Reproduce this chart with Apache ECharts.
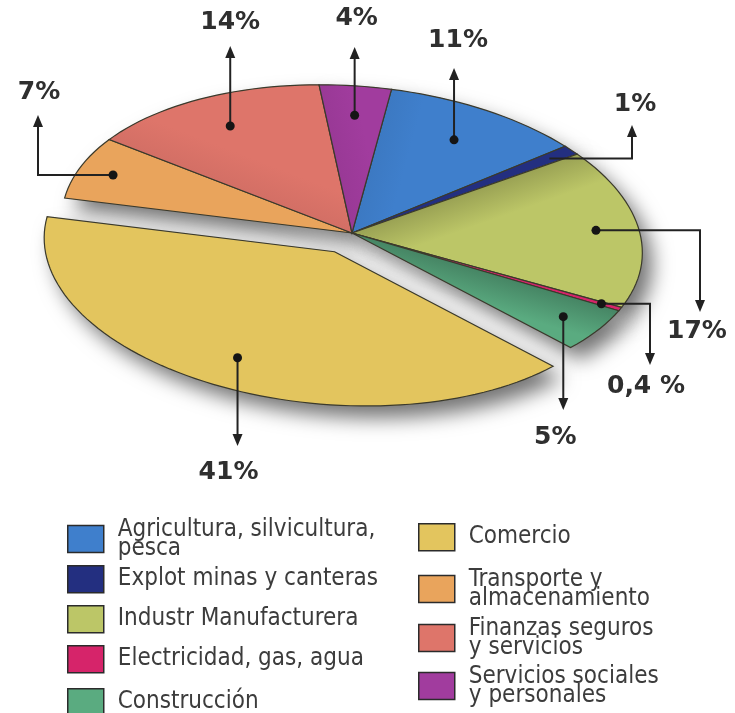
<!doctype html>
<html lang="es">
<head>
<meta charset="utf-8">
<title>Estructura por sector</title>
<script src="https://cdn.jsdelivr.net/npm/echarts@6/dist/echarts.min.js"></script>
<style>
  html, body { margin: 0; padding: 0; background: #fff; }
  #chart { width: 735px; height: 713px; }
</style>
</head>
<body>
<div id="chart"></div>
<script>
// slices in drawing order, clockwise from the top of the pie
const sectors = ['Agricultura, silvicultura, pesca', 'Explot minas y canteras', 'Industr Manufacturera',
  'Electricidad, gas, agua', 'Construcción', 'Comercio', 'Transporte y almacenamiento',
  'Finanzas seguros y servicios', 'Servicios sociales y personales'];
const shares = [11, 1, 17, 0.4, 5, 41, 7, 14, 4];
const shareLabels = ['11%', '1%', '17%', '0,4 %', '5%', '41%', '7%', '14%', '4%'];
const legendLabels = ['Agricultura, silvicultura,\npesca', 'Explot minas y canteras', 'Industr Manufacturera',
  'Electricidad, gas, agua', 'Construcción', 'Comercio', 'Transporte y\nalmacenamiento',
  'Finanzas seguros\ny servicios', 'Servicios sociales\ny personales'];
const colors = ['#3f7fcc', '#232f80', '#bcc667', '#d6246a', '#5aab80', '#e3c55e', '#e9a45c', '#de756a', '#a13c9e'];
// how dark the soft shade along each slice's leading edge is
const edgeShade = [0.05, 0, 0.18, 0, 0.22, 0, 0, 0.05, 0.05];
const exploded = 'Comercio';

// tilted pie: rotated ellipse rim, apex a bit above the ellipse centre (perspective)
const PIE = { cx: 352, cy: 236, apexY: 233, rx: 291, ry: 150, tilt: 4.5, start: 5.5, explode: 42 };

// where each percentage sits: dot at fraction f of the radius, then an arrow to the text
const labelLayout = [
  { f: 0.76, route: 'v', tipY: 68, dx: 4, ty: 40 },
  { f: 0.9, dot: false, route: 'hv', x: 632, tipY: 125, tx: 635, ty: 104 },
  { f: 0.85, route: 'hv', x: 700, tipY: 312, tx: 697, ty: 331 },
  { f: 0.93, route: 'hv', x: 650, tipY: 365, tx: 646, ty: 386 },
  { f: 0.86, route: 'v', tipY: 410, dx: -8, ty: 437 },
  { f: 0.8, route: 'v', tipY: 446, dx: -9, ty: 472 },
  { f: 0.88, route: 'hv', x: 38, tipY: 115, tx: 39, ty: 92 },
  { f: 0.8, route: 'v', tipY: 46, dx: 0, ty: 22 },
  { f: 0.8, route: 'v', tipY: 47, dx: 2, ty: 18 }
];

// legend squares (left, top of the square)
const legendPos = [[67, 523], [67, 565], [67, 605], [67, 645], [67, 688],
  [418, 523], [418, 573], [418, 622], [418, 670]];
const ICON_W = 36, ICON_H = 27, LINE_H = 19;

const total = shares.reduce((a, b) => a + b, 0);
const startAngles = [];
let acc = PIE.start;
shares.forEach(v => { startAngles.push(acc); acc += v / total * 360; });

const tiltSin = Math.sin(PIE.tilt * Math.PI / 180);
const tiltCos = Math.cos(PIE.tilt * Math.PI / 180);

function rotate(lx, ly) {
  return [lx * tiltCos - ly * tiltSin, lx * tiltSin + ly * tiltCos];
}

function rimPoint(deg) {
  const r = deg * Math.PI / 180;
  const p = rotate(PIE.rx * Math.sin(r), -PIE.ry * Math.cos(r));
  return [PIE.cx + p[0], PIE.cy + p[1]];
}

function offsetFor(i, mid) {
  if (sectors[i] !== exploded) return [0, 0];
  const r = mid * Math.PI / 180;
  return rotate(PIE.explode * Math.sin(r), -PIE.explode * Math.cos(r) * PIE.ry / PIE.rx);
}

function sectorPoints(a0, a1, off) {
  const pts = [[PIE.cx + off[0], PIE.apexY + off[1]]];
  const n = Math.max(2, Math.ceil((a1 - a0) / 2));
  for (let k = 0; k <= n; k++) {
    const p = rimPoint(a0 + (a1 - a0) * k / n);
    pts.push([p[0] + off[0], p[1] + off[1]]);
  }
  return pts;
}

function darken(hex, k) {
  const n = parseInt(hex.slice(1), 16);
  const c = [n >> 16, (n >> 8) & 255, n & 255].map(v => Math.round(v * (1 - k)));
  return 'rgb(' + c.join(',') + ')';
}

// fill with a soft darker band along the slice's leading (start) edge
function sliceFill(i, a0, off) {
  if (!edgeShade[i]) return colors[i];
  const ax = PIE.cx + off[0], ay = PIE.apexY + off[1];
  const p = rimPoint(a0);
  let ex = p[0] + off[0] - ax, ey = p[1] + off[1] - ay;
  const len = Math.hypot(ex, ey);
  ex /= len; ey /= len;
  const mx = ax + ex * len * 0.5, my = ay + ey * len * 0.5;
  return {
    type: 'linear', global: true,
    x: mx, y: my, x2: mx - ey * 34, y2: my + ex * 34,
    colorStops: [{ offset: 0, color: darken(colors[i], edgeShade[i]) }, { offset: 1, color: colors[i] }]
  };
}

function arrowHead(x, y, dir) {
  // dir -1 points up, 1 points down
  return { type: 'polygon', z2: 50, shape: { points: [[x, y], [x - 5, y - dir * 12], [x + 5, y - dir * 12]] },
    style: { fill: '#222' } };
}

function renderSlice(i, value) {
  const a0 = startAngles[i];
  const a1 = a0 + value / total * 360;
  const mid = (a0 + a1) / 2;
  const off = offsetFor(i, mid);
  const lay = labelLayout[i];
  const rim = rimPoint(mid);
  const dx = PIE.cx + lay.f * (rim[0] - PIE.cx) + off[0];
  const dy = PIE.apexY + lay.f * (rim[1] - PIE.apexY) + off[1];

  const children = [{
    type: 'polygon', z2: 1,
    shape: { points: sectorPoints(a0, a1, off) },
    style: { fill: sliceFill(i, a0, off), stroke: '#3b3a2c', lineWidth: 1.2 }
  }];

  let line, tip, tx, ty;
  const dir = lay.tipY < dy ? -1 : 1;
  if (lay.route === 'v') {
    line = [[dx, dy], [dx, lay.tipY - dir * 12]];
    tip = arrowHead(dx, lay.tipY, dir);
    tx = dx + lay.dx; ty = lay.ty;
  } else {
    line = [[dx, dy], [lay.x, dy], [lay.x, lay.tipY - dir * 12]];
    tip = arrowHead(lay.x, lay.tipY, dir);
    tx = lay.tx; ty = lay.ty;
  }
  children.push({ type: 'polyline', z2: 50, shape: { points: line }, style: { stroke: '#222', lineWidth: 2, fill: null } });
  children.push(tip);
  if (lay.dot !== false) {
    children.push({ type: 'circle', z2: 51, shape: { cx: dx, cy: dy, r: 4.5 }, style: { fill: '#151515' } });
  }
  children.push({
    type: 'text', z2: 50,
    style: { text: shareLabels[i], x: tx, y: ty, align: 'center', verticalAlign: 'middle',
      font: 'bold 25px "DejaVu Sans", Verdana, sans-serif', fill: '#2f2f2f' }
  });
  return { type: 'group', children };
}

function renderShadow(params, api) {
  const i = params.dataIndex;
  const a0 = startAngles[i];
  const a1 = a0 + api.value(0) / total * 360;
  const off = offsetFor(i, (a0 + a1) / 2);
  return {
    type: 'polygon',
    shape: { points: sectorPoints(a0, a1, off) },
    style: { fill: '#9a9a9a', shadowBlur: 20, shadowColor: 'rgba(0,0,0,0.55)', shadowOffsetX: 10, shadowOffsetY: 12 }
  };
}

const legendFont = "'Liberation Sans Narrow', 'DejaVu Sans Condensed', 'Noto Sans', sans-serif";

const chart = echarts.init(document.getElementById('chart'), null, { renderer: 'canvas' });
chart.setOption({
  backgroundColor: '#fff',
  animation: false,
  legend: sectors.map((name, i) => {
    const lines = legendLabels[i].split('\n').length;
    const extra = Math.max(0, (lines * LINE_H - ICON_H) / 2);
    return {
      data: [name],
      left: legendPos[i][0],
      top: legendPos[i][1] - extra,
      orient: 'vertical',
      padding: 0,
      itemWidth: ICON_W,
      itemHeight: ICON_H,
      icon: 'rect',
      selectedMode: false,
      formatter: () => legendLabels[i],
      itemStyle: { borderColor: '#2b2b2b', borderWidth: 1.5 },
      textStyle: { fontFamily: legendFont, fontSize: 24, lineHeight: LINE_H, color: '#3c3c3c', padding: [0, 0, 0, 9] }
    };
  }),
  series: [{
    type: 'custom',
    name: 'sombra',
    coordinateSystem: 'none',
    silent: true,
    z: 1,
    data: shares.map(v => [v]),
    renderItem: renderShadow
  }].concat(sectors.map((name, i) => ({
    type: 'custom',
    name,
    coordinateSystem: 'none',
    silent: true,
    z: 2,
    itemStyle: { color: colors[i] },
    data: [[shares[i]]],
    renderItem: (params, api) => renderSlice(i, api.value(0))
  })))
});
</script>
</body>
</html>
